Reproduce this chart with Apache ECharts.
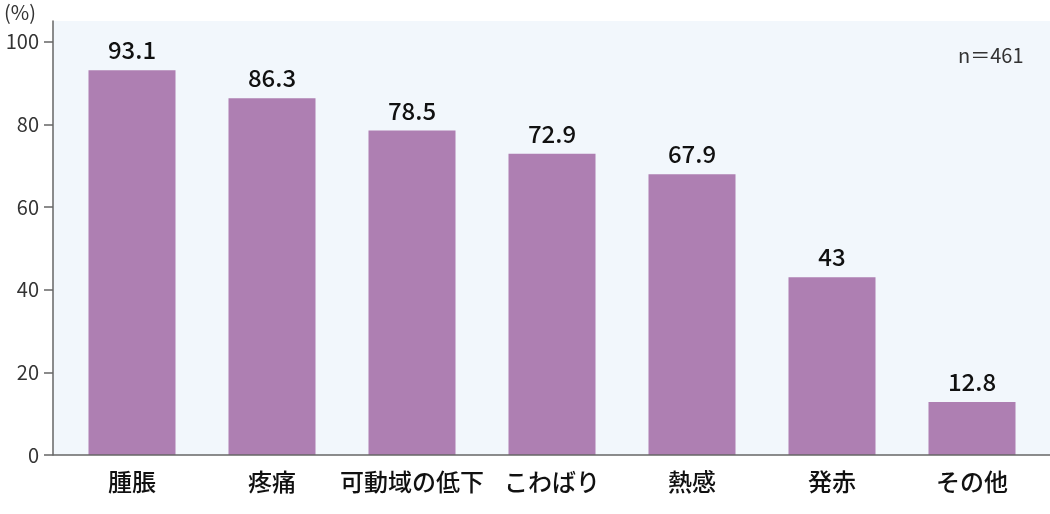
<!DOCTYPE html>
<html>
<head>
<meta charset="utf-8">
<script src="https://cdn.jsdelivr.net/npm/echarts@6/dist/echarts.min.js"></script>
<style>
  html, body { margin: 0; padding: 0; background: #fff; }
  #main { width: 1050px; height: 514px; }
</style>
</head>
<body>
<div id="main"></div>
<script>
// データ
let categories = ['腫脹', '疼痛', '可動域の低下', 'こわばり', '熱感', '発赤', 'その他']
let values = [93.1, 86.3, 78.5, 72.9, 67.9, 43, 12.8]
let yTicks = [0, 20, 40, 60, 80, 100]

let font = '"Noto Sans CJK JP", "Noto Sans", sans-serif'

let myChart = echarts.init(document.getElementById('main'))

let option = {
    backgroundColor: '#ffffff',
    animation: false,
    textStyle: { fontFamily: font },
    grid: {
        left: 62,
        right: 8,
        top: 21,
        bottom: 59
    },
    graphic: [
        {
            type: 'rect',
            z: -10,
            shape: { x: 53, y: 21, width: 997, height: 434 },
            style: { fill: '#f2f7fc' }
        },
        {
            type: 'line',
            z: 10,
            shape: { x1: 53, y1: 455, x2: 1050, y2: 455 },
            style: { stroke: '#666666', lineWidth: 1.5 }
        },
        {
            type: 'text',
            left: 4,
            top: 2,
            style: { text: '(%)', fontSize: 20, fill: '#333333', fontFamily: font }
        },
        {
            type: 'text',
            left: 958,
            top: 45,
            style: { text: 'n＝461', fontSize: 20, fill: '#333333', fontFamily: font }
        }
    ],
    xAxis: {
        type: 'category',
        data: categories,
        axisLine: { show: false },
        axisTick: { show: false },
        axisLabel: {
            interval: 0,
            margin: 15,
            fontSize: 24,
            fontWeight: 500,
            color: '#111111',
            fontFamily: font
        }
    },
    yAxis: {
        type: 'value',
        min: 0,
        max: 105,
        interval: 20,
        offset: 9,
        splitLine: { show: false },
        axisLine: { show: true, lineStyle: { color: '#666666', width: 1.5 } },
        axisTick: {
            show: true,
            length: 9,
            customValues: yTicks,
            lineStyle: { color: '#666666', width: 1.5 }
        },
        axisLabel: {
            customValues: yTicks,
            margin: 14,
            fontSize: 20,
            color: '#333333',
            fontFamily: font
        }
    },
    series: [
        {
            type: 'bar',
            data: values,
            barWidth: 87,
            itemStyle: { color: '#ae7fb2' },
            label: {
                show: true,
                position: 'top',
                distance: 8,
                fontSize: 24,
                fontWeight: 500,
                color: '#111111',
                fontFamily: font
            }
        }
    ]
}

myChart.setOption(option)
</script>
</body>
</html>
